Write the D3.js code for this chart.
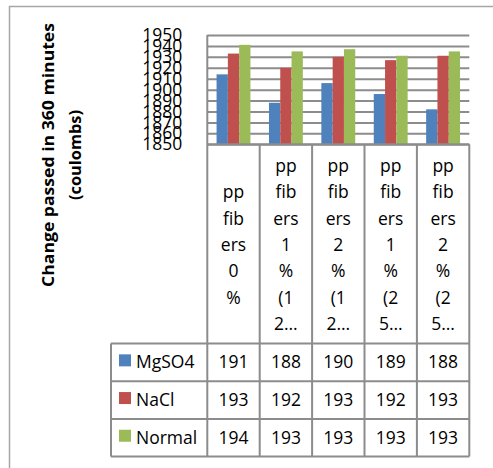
<!DOCTYPE html>
<html><head><meta charset="utf-8">
<script src="https://cdn.jsdelivr.net/npm/d3@7"></script>
<style>body{margin:0;background:#fff;} svg{display:block;font-family:"Open Sans",sans-serif;}</style>
</head><body>
<script>
const categories = ["pp fibers 0 %", "pp fibers 1 % (12…", "pp fibers 2 % (12…", "pp fibers 1 % (25…", "pp fibers 2 % (25…"];
const categoryLines = [
  ["pp","fib","ers","0","%"],
  ["pp","fib","ers","1","%","(1","2…"],
  ["pp","fib","ers","2","%","(1","2…"],
  ["pp","fib","ers","1","%","(2","5…"],
  ["pp","fib","ers","2","%","(2","5…"]
];
const seriesNames = ["MgSO4", "NaCl", "Normal"];
const mgso4 = [1914, 1888, 1906, 1896, 1882];
const nacl = [1933, 1920, 1930, 1927, 1931];
const normal = [1941, 1935, 1937, 1931, 1935];
const seriesValues = [mgso4, nacl, normal];
const colors = ["#4F81BD", "#C0504D", "#9BBB59"];
const yTicks = [1850,1860,1870,1880,1890,1900,1910,1920,1930,1940,1950];
const yTitle = ["Change passed in 360 minutes", "(coulombs)"];

const W = 493, H = 468;
const svg = d3.select("body").append("svg").attr("width", W).attr("height", H);

const plotL = 207.3, plotR = 469.3, plotT = 35, plotB = 144.3;
const headB = 343.5, rowH = 37.7, legL = 111;
const lineC = "#8c8c8c";

// outer border (top and left visible)
svg.append("path").attr("d", `M9.5,${H} V6.5 H${W}`).attr("fill","none").attr("stroke","#a6a6a6").attr("stroke-width",1.5);

const x = d3.scaleBand().domain(categories).range([plotL, plotR]);
const xs = d3.scaleBand().domain(seriesNames).range([0, x.bandwidth()]).paddingInner(0).paddingOuter(0.82);
const y = d3.scaleLinear().domain([1850, 1950]).range([plotB, plotT]);

// gridlines
const grid = svg.append("g").attr("transform", `translate(${plotL},0)`)
  .call(d3.axisLeft(y).tickValues(yTicks).tickSize(-(plotR - plotL)).tickFormat(""));
grid.select(".domain").remove();
grid.selectAll("line").attr("stroke", lineC).attr("stroke-width", 2);

// y axis labels
const yAx = svg.append("g").attr("transform", `translate(${plotL},0)`)
  .call(d3.axisLeft(y).tickValues(yTicks).tickSize(0).tickPadding(25).tickFormat(d3.format("d")));
yAx.select(".domain").remove();
yAx.selectAll("text").attr("font-size", 17.5).attr("font-family", "Open Sans").attr("fill", "#000");

// bars
const groups = svg.append("g").selectAll("g").data(seriesNames).join("g").attr("fill", (d,i) => colors[i]);
groups.selectAll("rect").data((s,i) => seriesValues[i].map((v,j) => ({s, v, c: categories[j]})))
  .join("rect")
  .attr("x", d => x(d.c) + xs(d.s))
  .attr("width", xs.bandwidth())
  .attr("y", d => y(d.v))
  .attr("height", d => y(1850) - y(d.v));

// table lines
const tbl = svg.append("g").attr("stroke", lineC).attr("stroke-width", 2).attr("fill", "none");
tbl.append("line").attr("x1", plotL).attr("x2", plotL).attr("y1", plotT).attr("y2", headB + 3*rowH);
tbl.append("line").attr("x1", plotL).attr("x2", plotR).attr("y1", plotB).attr("y2", plotB);
categories.forEach((c,i) => {
  const xx = x(c) + x.bandwidth();
  tbl.append("line").attr("x1", xx).attr("x2", xx).attr("y1", plotB).attr("y2", headB + 3*rowH);
});
for (let r = 0; r <= 3; r++) {
  tbl.append("line").attr("x1", legL).attr("x2", plotR).attr("y1", headB + r*rowH).attr("y2", headB + r*rowH);
}
tbl.append("line").attr("x1", legL).attr("x2", legL).attr("y1", headB).attr("y2", headB + 3*rowH);

// category labels
const lh = 26.3, headMid = (plotB + headB) / 2 + 1;
categories.forEach((c,i) => {
  const lines = categoryLines[i];
  const t = svg.append("text").attr("text-anchor","middle").attr("font-size",17.5).attr("fill","#000");
  lines.forEach((ln,k) => {
    t.append("tspan").attr("x", x(c) + x.bandwidth()/2)
      .attr("y", headMid + (k - (lines.length-1)/2) * lh).attr("dy","0.35em").text(ln);
  });
});

// table rows
seriesNames.forEach((s,r) => {
  const cy = headB + r*rowH + rowH/2;
  svg.append("rect").attr("x", 119).attr("y", cy - 8).attr("width", 12).attr("height", 12).attr("fill", colors[r]);
  svg.append("text").attr("x", 136).attr("y", cy).attr("dy","0.35em").attr("font-size",17.5).attr("fill","#000").text(s);
  seriesValues[r].forEach((v,j) => {
    svg.append("text").attr("x", x(categories[j]) + x.bandwidth()/2).attr("y", cy).attr("dy","0.35em")
      .attr("text-anchor","middle").attr("font-size",17.5).attr("fill","#000").text(Math.floor(v/10));
  });
});

// y title
const yt = svg.append("g").attr("transform", "translate(0,155) rotate(-90)")
  .attr("font-weight","bold").attr("font-size",16.5).attr("fill","#000");
yt.append("text").attr("x",-132).attr("y",48).attr("dy","0.35em")
  .attr("textLength",264).attr("lengthAdjust","spacingAndGlyphs").text(yTitle[0]);
yt.append("text").attr("x",-45).attr("y",75).attr("dy","0.35em")
  .attr("textLength",90).attr("lengthAdjust","spacingAndGlyphs").text(yTitle[1]);
</script>
</body></html>
